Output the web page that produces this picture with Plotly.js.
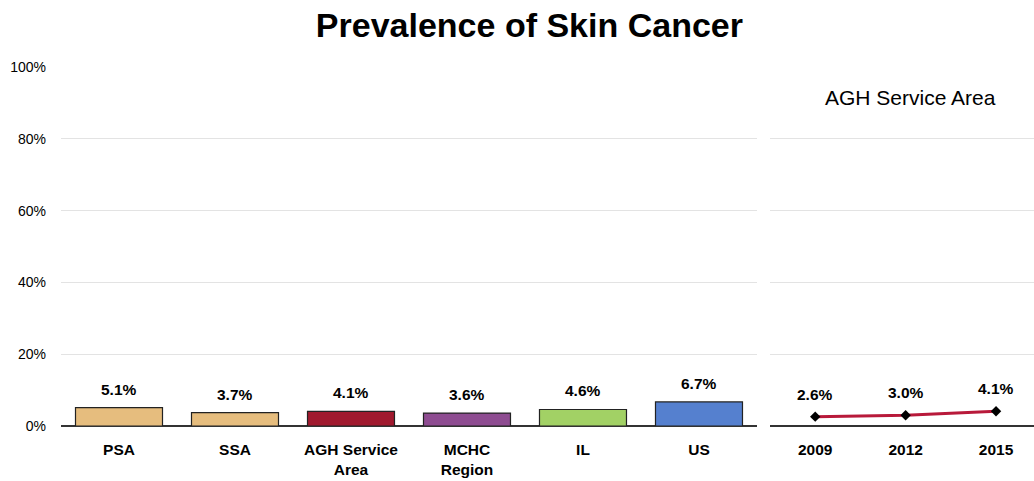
<!DOCTYPE html>
<html><head><meta charset="utf-8">
<script src="https://cdn.plot.ly/plotly-3.0.1.min.js"></script>
<style>html,body{margin:0;padding:0;background:#fff}#chart{width:1034px;height:481px}</style>
</head><body><div id="chart"></div>
<script>
const categories = ["PSA", "SSA", "AGH Service<br>Area", "MCHC<br>Region", "IL", "US"];
const values = [5.1, 3.7, 4.1, 3.6, 4.6, 6.7];
const barColors = ["#E6BD7E", "#E6BD7E", "#A0192E", "#8E4C91", "#A2D165", "#5580CF"];
const years = ["2009", "2012", "2015"];
const trend = [2.6, 3.0, 4.1];
const trendLabel = "AGH Service Area";
const title = "Prevalence of Skin Cancer";
const yTicks = [0, 20, 40, 60, 80, 100];

const sans = "Liberation Sans, Arial, sans-serif";

const traces = [
  {type: "bar", x: categories, y: values, xaxis: "x", yaxis: "y",
   marker: {color: barColors, line: {color: "#222", width: 1.2}}, width: 0.75,
   hoverinfo: "skip"},
  {type: "scatter", mode: "lines+markers", x: years, y: trend, xaxis: "x2", yaxis: "y2",
   line: {color: "#B8193A", width: 3}, marker: {symbol: "diamond", color: "#000", size: 8},
   hoverinfo: "skip"}
];

const annotations = [];
values.forEach((v, i) => annotations.push({x: i, y: v, xref: "x", yref: "y",
  text: "<b>" + v.toFixed(1) + "%</b>", showarrow: false, yanchor: "bottom", yshift: 8,
  font: {family: sans, size: 15.5, color: "#000"}}));
trend.forEach((v, i) => annotations.push({x: i, y: v, xref: "x2", yref: "y2",
  text: "<b>" + v.toFixed(1) + "%</b>", showarrow: false, yanchor: "bottom", yshift: 12,
  font: {family: sans, size: 15.5, color: "#000"}}));
annotations.push({x: (910 - 61) / 973, y: 91.4, xref: "paper", yref: "y2", xanchor: "center",
  yanchor: "middle", text: trendLabel, showarrow: false,
  font: {family: sans, size: 21, color: "#000"}});

const layout = {
  width: 1034, height: 481,
  margin: {l: 61, r: 0, t: 67, b: 55},
  paper_bgcolor: "#fff", plot_bgcolor: "#fff",
  showlegend: false,
  title: {text: "<b>" + title + "</b>", font: {family: sans, size: 34, color: "#000"},
          x: 0.512, xanchor: "center", y: 0.948, yanchor: "middle"},
  xaxis: {domain: [0, 0.7153], type: "category", showgrid: false, showline: false, ticks: "",
          tickfont: {family: sans, size: 15.5, color: "#000"}, range: [-0.5, 5.5],
          ticklabelstandoff: 12},
  yaxis: {range: [0, 100], tickvals: yTicks, ticktext: yTicks.map(t => t + "%"),
          showgrid: true, gridcolor: "#e3e3e3", gridwidth: 1, zeroline: true, zerolinecolor: "#333",
          zerolinewidth: 1.3, tickfont: {family: sans, size: 14, color: "#000"}, ticks: "",
          ticklabelstandoff: 14},
  xaxis2: {domain: [0.7287, 1], anchor: "y2", type: "category", showgrid: false, ticks: "",
           range: [-0.5, 2.42], tickfont: {family: sans, size: 15.5, color: "#000"},
           ticklabelstandoff: 12},
  yaxis2: {domain: [0, 1], anchor: "x2", range: [0, 100], tickvals: yTicks, showticklabels: false,
           showgrid: true, gridcolor: "#e3e3e3", gridwidth: 1, zeroline: true, zerolinecolor: "#333",
           zerolinewidth: 1.3},
  annotations: annotations
};
layout.xaxis.tickvals = categories; layout.xaxis.ticktext = categories.map(c => "<b>" + c + "</b>");
layout.xaxis2.tickvals = years; layout.xaxis2.ticktext = years.map(c => "<b>" + c + "</b>");

Plotly.newPlot("chart", traces, layout, {displayModeBar: false, staticPlot: true});
</script></body></html>
